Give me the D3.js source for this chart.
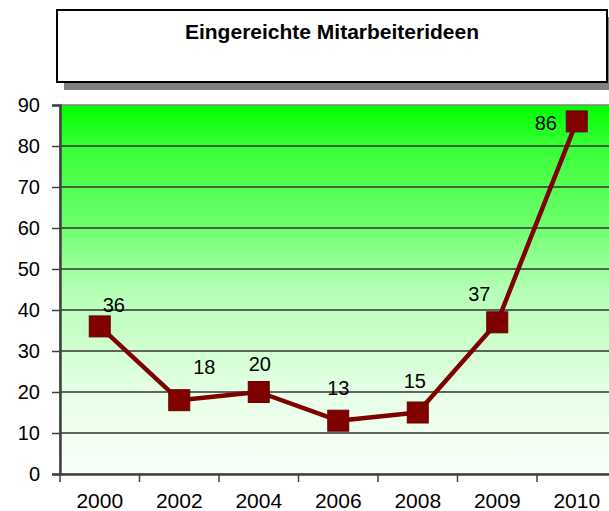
<!DOCTYPE html>
<html>
<head>
<meta charset="utf-8">
<script src="https://cdn.jsdelivr.net/npm/d3@7"></script>
<style>
  body { margin: 0; background: #fff; }
  svg { display: block; font-family: "Liberation Sans", Arial, sans-serif; }
  .axis path, .axis line { stroke: #404040; }
  .axis text { fill: #000; font-size: 20px; }
</style>
</head>
<body>
<div id="chart"></div>
<script>
// data
var years = ["2000", "2002", "2004", "2006", "2008", "2009", "2010"];
var ideas = [36, 18, 20, 13, 15, 37, 86];
var yTicks = [0, 10, 20, 30, 40, 50, 60, 70, 80, 90];
var title = "Eingereichte Mitarbeiterideen";

// label nudges (the original labels were placed by hand)
var labelDx = [14, 25, 1, 0, -3, -18, -31],
    labelDy = [-14, -26, -21, -26, -25, -21, 9];

var width = 609, height = 511;
var plot = {left: 60, top: 105, bottom: 474};
var step = 79.5;

var svg = d3.select("#chart").append("svg")
    .attr("width", width)
    .attr("height", height);

// gradient for the plot background
var grad = svg.append("defs").append("linearGradient")
    .attr("id", "bg")
    .attr("x1", 0).attr("y1", 0).attr("x2", 0).attr("y2", 1);
[[0, "rgb(0,255,0)"], [0.11, "rgb(55,255,55)"], [0.33, "rgb(110,255,110)"],
 [0.5, "rgb(180,255,180)"], [0.78, "rgb(230,255,230)"], [1, "rgb(250,255,250)"]]
  .forEach(function(s) {
    grad.append("stop").attr("offset", s[0]).attr("stop-color", s[1]);
  });

var x = d3.scaleBand()
    .domain(years)
    .range([plot.left, plot.left + step * years.length])
    .padding(0);
var y = d3.scaleLinear()
    .domain([0, 90])
    .range([plot.bottom, plot.top]);

// title box with shadow
svg.append("rect")
    .attr("x", 64).attr("y", 17).attr("width", 560).attr("height", 73)
    .attr("fill", "#808080");
svg.append("rect")
    .attr("x", 57).attr("y", 10).attr("width", 550).attr("height", 72)
    .attr("fill", "#fff").attr("stroke", "#000").attr("stroke-width", 2);
svg.append("text")
    .attr("x", 332).attr("y", 39)
    .attr("text-anchor", "middle")
    .style("font-size", "21px")
    .style("font-weight", "bold")
    .text(title);

// plot area
svg.append("rect")
    .attr("x", plot.left).attr("y", plot.top)
    .attr("width", x.range()[1] - plot.left)
    .attr("height", plot.bottom - plot.top)
    .attr("fill", "url(#bg)")
    .attr("stroke", "#808080")
    .attr("stroke-width", 1.5);

svg.append("g")
    .selectAll("line")
    .data(yTicks.filter(function(d) { return d > 0 && d < 90; }))
    .enter().append("line")
    .attr("x1", plot.left).attr("x2", x.range()[1])
    .attr("y1", function(d) { return y(d); })
    .attr("y2", function(d) { return y(d); })
    .attr("stroke", "#333")
    .attr("stroke-width", 1.5);

// y axis
var yAxisG = svg.append("g")
    .attr("class", "axis")
    .attr("transform", "translate(" + plot.left + ",0)")
    .call(d3.axisLeft(y).tickValues(yTicks).tickSize(8).tickPadding(12));
yAxisG.select(".domain").attr("stroke-width", 2.5);
yAxisG.selectAll("line").attr("stroke-width", 1.5);

// x axis: labels centred, ticks on category boundaries
var xAxisG = svg.append("g")
    .attr("class", "axis")
    .attr("transform", "translate(0," + plot.bottom + ")")
    .call(d3.axisBottom(x).tickSize(0).tickPadding(19).tickSizeOuter(0));
xAxisG.select(".domain").attr("stroke-width", 2.5);
xAxisG.selectAll(".tick text").style("font-size", "21px");
xAxisG.selectAll(".sep")
    .data(years)
    .enter().append("line")
    .attr("class", "sep")
    .attr("x1", function(d) { return x(d); })
    .attr("x2", function(d) { return x(d); })
    .attr("y1", 0).attr("y2", 8)
    .attr("stroke-width", 1.5);

// line and markers
var cx = function(d, i) { return x(years[i]) + x.bandwidth() / 2; };
var line = d3.line()
    .x(cx)
    .y(function(d) { return y(d); });

svg.append("path")
    .datum(ideas)
    .attr("d", line)
    .attr("fill", "none")
    .attr("stroke", "#800000")
    .attr("stroke-width", 4.5)
    .attr("stroke-linejoin", "round");

var ms = 21;
svg.append("g")
    .selectAll("rect")
    .data(ideas)
    .enter().append("rect")
    .attr("x", function(d, i) { return cx(d, i) - ms / 2; })
    .attr("y", function(d) { return y(d) - ms / 2; })
    .attr("width", ms).attr("height", ms)
    .attr("fill", "#800000")
    .attr("stroke", "#6a0000")
    .attr("stroke-width", 1);

svg.append("g")
    .selectAll("text")
    .data(ideas)
    .enter().append("text")
    .attr("x", function(d, i) { return cx(d, i) + labelDx[i]; })
    .attr("y", function(d, i) { return y(d) + labelDy[i]; })
    .attr("text-anchor", "middle")
    .style("font-size", "20px")
    .text(function(d) { return d; });
</script>
</body>
</html>
